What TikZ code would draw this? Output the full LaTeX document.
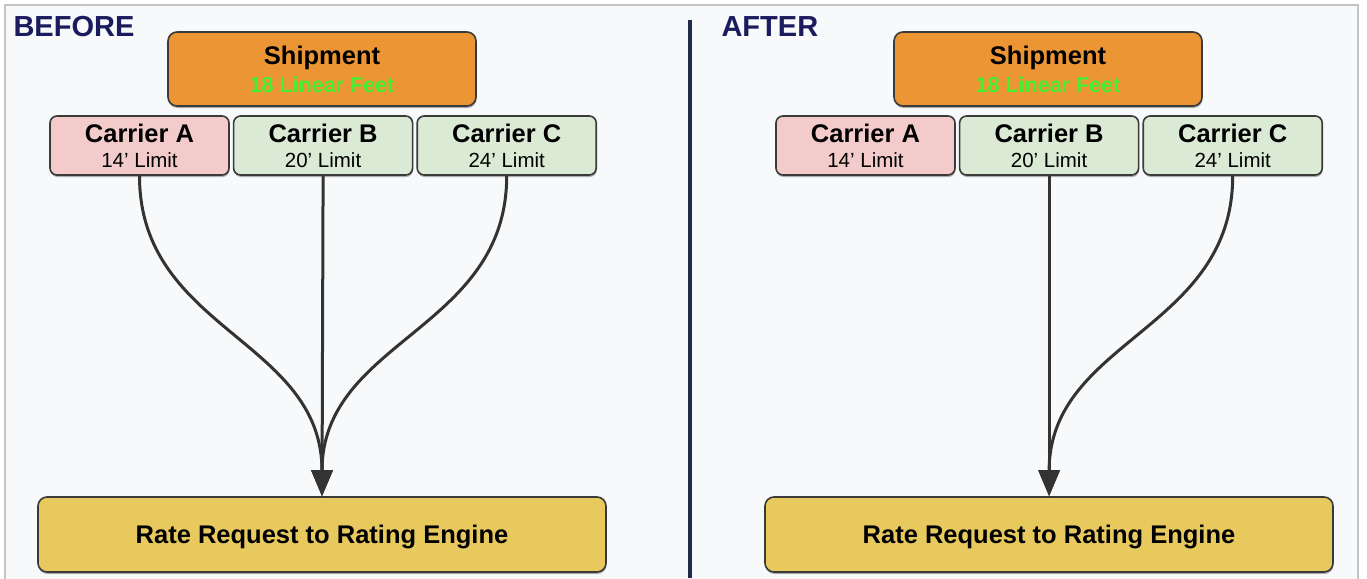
\documentclass[tikz,border=0pt]{standalone}
\usepackage{fontspec}
\setmainfont{Liberation Sans}
\usetikzlibrary{positioning,arrows.meta,shadows}

\definecolor{panelbg}{HTML}{F8F9FA}
\definecolor{framegray}{HTML}{C4C4C4}
\definecolor{headnavy}{HTML}{1B1C5E}
\definecolor{dividernavy}{HTML}{1F2B48}
\definecolor{shiporange}{HTML}{EC9535}
\definecolor{feetgreen}{HTML}{44F030}
\definecolor{nopink}{HTML}{F3CBCB}
\definecolor{okgreen}{HTML}{DAEAD4}
\definecolor{rateyellow}{HTML}{E8C95E}
\definecolor{boxline}{HTML}{3A3A3A}
\definecolor{flowgray}{HTML}{333333}

\begin{document}
\begin{tikzpicture}[x=1pt,y=-1pt,
box/.style={draw=boxline,line width=1.6pt,rounded corners=9pt,
drop shadow={shadow xshift=0.5pt,shadow yshift=-2pt,opacity=0.3,fill=black}},
shipbox/.style={box,fill=shiporange,minimum width=308pt,minimum height=74pt,
align=center,font=\fontsize{21.5}{28}\selectfont\bfseries},
carrierbox/.style={box,rounded corners=7pt,minimum width=179pt,minimum height=59pt,
align=center,font=\fontsize{20.5}{25}\selectfont},
ratebox/.style={box,fill=rateyellow,minimum width=568pt,minimum height=75pt,
text depth=0pt,font=\fontsize{25.5}{30}\selectfont\bfseries},
head/.style={anchor=base west,text=headnavy,font=\fontsize{29}{31}\selectfont\bfseries},
flow/.style={draw=flowgray,line width=3pt,-{Triangle[length=26pt,width=21pt]}}]
\useasboundingbox (0,0) rectangle (1367,578);
\fill[white] (0,0) rectangle (1367,578);
\filldraw[fill=panelbg,draw=framegray,line width=2pt] (5,5) rectangle (1358,600);
\draw[dividernavy,line width=4pt] (690,20) -- (690,578);

% before
\node[head] (before) at (10,37) {BEFORE};
\node[shipbox] (ship1) at (322,69)
  {{\fontsize{25.5}{28}\selectfont Shipment}\\\textcolor{feetgreen}{18 Linear Feet}};
\node[carrierbox,fill=nopink] (ca1) at (139.5,145.5)
  {{\fontsize{25.5}{25}\selectfont\bfseries Carrier A}\\14’ Limit};
\node[carrierbox,fill=okgreen,right=3pt of ca1] (cb1)
  {{\fontsize{25.5}{25}\selectfont\bfseries Carrier B}\\20’ Limit};
\node[carrierbox,fill=okgreen,right=3pt of cb1] (cc1)
  {{\fontsize{25.5}{25}\selectfont\bfseries Carrier C}\\24’ Limit};
\node[ratebox] (rate1) at (322,534.5) {Rate Request to Rating Engine};
\draw[flow] (ca1.south) .. controls +(0,155) and +(0,-157) .. (rate1.north);
\draw[flow] (cb1.south) -- (rate1.north);
\draw[flow] (cc1.south) .. controls +(0,155) and +(0,-157) .. (rate1.north);

% after
\node[head] (after) at (718,37) {AFTER};
\node[shipbox] (ship2) at (1048,69)
  {{\fontsize{25.5}{28}\selectfont Shipment}\\\textcolor{feetgreen}{18 Linear Feet}};
\node[carrierbox,fill=nopink] (ca2) at (865.5,145.5)
  {{\fontsize{25.5}{25}\selectfont\bfseries Carrier A}\\14’ Limit};
\node[carrierbox,fill=okgreen,right=3pt of ca2] (cb2)
  {{\fontsize{25.5}{25}\selectfont\bfseries Carrier B}\\20’ Limit};
\node[carrierbox,fill=okgreen,right=3pt of cb2] (cc2)
  {{\fontsize{25.5}{25}\selectfont\bfseries Carrier C}\\24’ Limit};
\node[ratebox] (rate2) at (1049,534.5) {Rate Request to Rating Engine};
\draw[flow] (cb2.south) -- (cb2.south |- rate2.north);
\draw[flow] (cc2.south) .. controls +(0,155) and +(0,-157) .. (cb2.south |- rate2.north);
\end{tikzpicture}
\end{document}
